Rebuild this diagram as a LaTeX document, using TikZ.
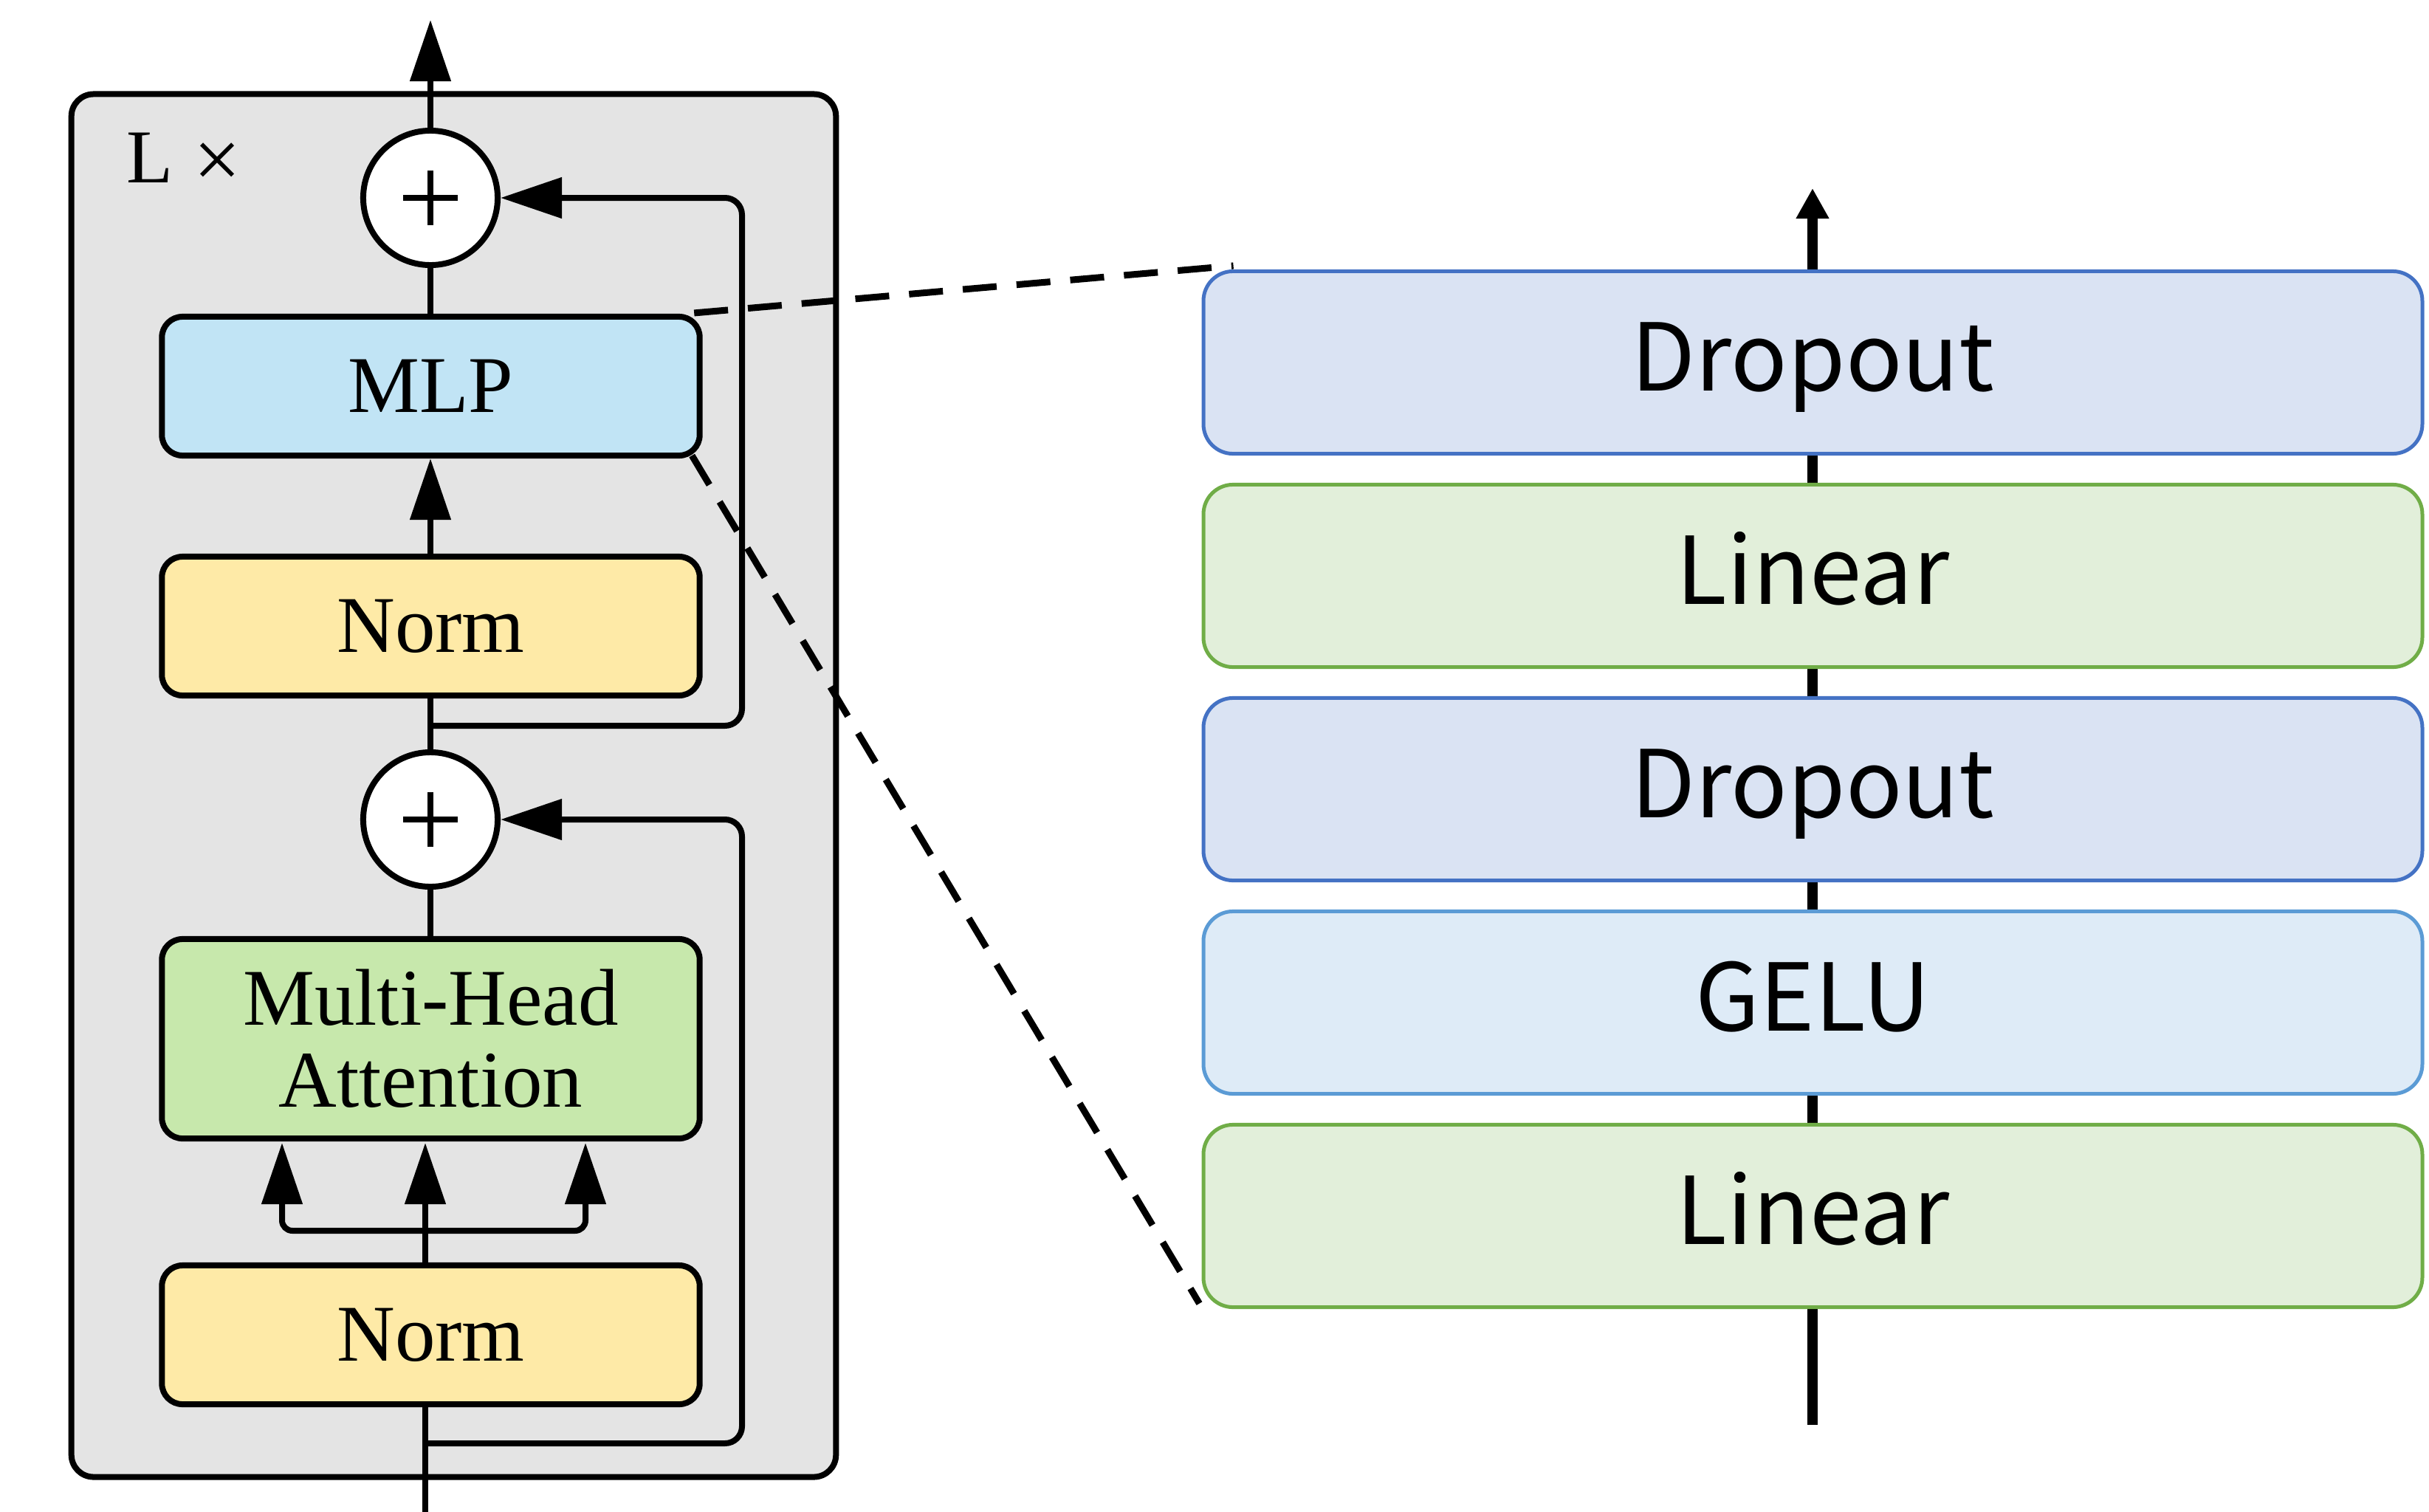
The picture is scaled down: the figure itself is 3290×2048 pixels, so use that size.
\documentclass[tikz,border=0pt]{standalone}
\usepackage{fontspec}
\setmainfont{Liberation Serif}
\newfontfamily\jpfont{Noto Sans CJK JP}
\usetikzlibrary{arrows.meta}
\definecolor{bgray}{HTML}{E4E4E4}
\definecolor{mlpfill}{HTML}{C1E4F5}
\definecolor{normfill}{HTML}{FEEAA7}
\definecolor{mhafill}{HTML}{C7E8AC}
\definecolor{dropfill}{HTML}{DAE3F3}
\definecolor{dropline}{HTML}{4472C4}
\definecolor{linfill}{HTML}{E2EFDA}
\definecolor{linline}{HTML}{70AD47}
\definecolor{gelufill}{HTML}{DEEBF7}
\definecolor{geluline}{HTML}{5B9BD5}
\begin{document}
\begin{tikzpicture}[x=0.01cm,y=-0.01cm,
  thin line/.style={line width=0.08cm, line join=round},
  arr/.style={thin line, -{Triangle[length=0.83cm,width=0.54cm]}},
  lbox/.style={draw, thin line, rounded corners=0.28cm, minimum width=7.28cm,
    minimum height=1.88cm, align=center, inner sep=0pt,
    font=\fontsize{31}{31.6}\selectfont},
  plusnode/.style={circle, draw, fill=white, thin line, minimum size=1.82cm, inner sep=0pt},
  rbox/.style={draw, line width=0.05cm, rounded corners=0.4cm, minimum width=16.5cm,
    minimum height=2.47cm, inner sep=0pt, text height=0.94cm, text depth=0.18cm,
    font=\jpfont\fontsize{36}{40}\selectfont},
  zoomline/.style={line width=0.09cm, dash pattern=on 0.46cm off 0.27cm}
]
\useasboundingbox (0,0) rectangle (3290,2048);

% outer block
\node[draw, fill=bgray, thin line, rounded corners=0.3cm, minimum width=10.35cm,
  minimum height=18.72cm, inner sep=0pt] (outer) at (614.5,1064) {};
\node[anchor=base west, inner sep=0pt, font=\fontsize{29.3}{32}\selectfont] (lx) at (171,247) {L\hspace{0.28cm}\raisebox{-0.07cm}{\scalebox{1.1}{×}}};

% left nodes
\node[plusnode] (c1) at (583,268) {};
\node[lbox, fill=mlpfill] (mlp) at (583.5,523) {MLP};
\node[lbox, fill=normfill] (norm1) at (583.5,848) {Norm};
\node[plusnode] (c2) at (583,1110) {};
\node[lbox, fill=mhafill, minimum height=2.70cm] (mha) at (583.5,1407) {Multi-Head\\Attention};
\node[lbox, fill=normfill] (norm2) at (583.5,1808) {Norm};

\foreach \c in {c1,c2}{
  \draw[line width=0.08cm] ([xshift=-0.37cm]\c.center) -- ([xshift=0.37cm]\c.center);
  \draw[line width=0.08cm] ([yshift=-0.37cm]\c.center) -- ([yshift=0.37cm]\c.center);
}

\coordinate (topout) at (583,27);
\coordinate (r1) at (583,983);
\coordinate (in) at (576,2048);
\coordinate (r2) at (576,1955);
\coordinate (br) at (576,1667);
\coordinate (qk) at (382,1548);
\coordinate (qv) at (793,1548);
\coordinate (mid) at (576,1548);

\draw[arr] (c1.north) -- (topout);
\draw[thin line] (mlp.north -| c1) -- (c1.south);
\draw[arr] (norm1.north -| c1) -- (mlp.south -| c1);
\draw[thin line] (c2.north) -- (norm1.south -| c2);
\draw[arr, rounded corners=0.23cm] (r1) -- (1005,983) -- (1005,268) -- (c1.east);
\draw[thin line] (mha.north -| c2) -- (c2.south);
\draw[thin line] (in) -- (in |- norm2.south);
\draw[arr, rounded corners=0.23cm] (r2) -- (1005,1955) -- (1005,1110) -- (c2.east);
\draw[arr] (norm2.north -| in) -- (mid);
\draw[arr, rounded corners=0.14cm] (br) -| (qk);
\draw[arr, rounded corners=0.14cm] (br) -| (qv);

% right side
\coordinate (rin) at (2455,1930);
\coordinate (rout) at (2455,255);
\draw[line width=0.14cm, -{Triangle[length=0.41cm,width=0.42cm]}] (rin) -- (rout);

\node[rbox, fill=dropfill, draw=dropline] (d1) at (2455.5,491) {Dropout};
\node[rbox, fill=linfill, draw=linline] (l1) at (2455.5,780) {Linear};
\node[rbox, fill=dropfill, draw=dropline] (d2) at (2455.5,1069) {Dropout};
\node[rbox, fill=gelufill, draw=geluline] (g) at (2455.5,1358) {GELU};
\node[rbox, fill=linfill, draw=linline] (l2) at (2455.5,1647) {Linear};

% zoom lines
\draw[zoomline] ([xshift=-0.115cm,yshift=0.01cm]mlp.north east) -- ([xshift=0.43cm,yshift=0.05cm]d1.north west);
\draw[zoomline] ([xshift=-0.145cm,yshift=0.04cm]mlp.south east) -- ([xshift=-0.03cm,yshift=0.075cm]l2.south west);
\end{tikzpicture}
\end{document}
